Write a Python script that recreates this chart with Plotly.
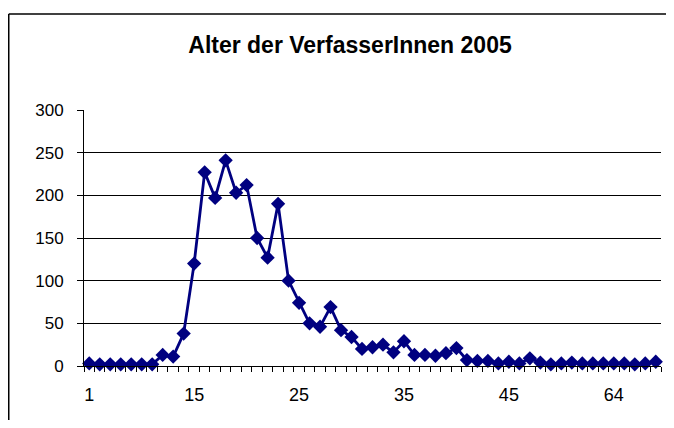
import plotly.graph_objects as go

ages = ["1", "3", "5", "7", "9", "10", "11", "12", "13", "14",
        "15", "16", "17", "18", "19", "20", "21", "22", "23", "24",
        "25", "26", "27", "28", "29", "30", "31", "32", "33", "34",
        "35", "36", "37", "38", "39", "40", "41", "42", "43", "44",
        "45", "46", "47", "48", "49", "50", "52", "55", "58", "60",
        "64", "65", "68", "70", "75"]
counts = [3, 2, 2, 2, 2, 2, 2, 13, 11, 38,
          120, 227, 197, 241, 203, 212, 150, 127, 190, 100,
          74, 50, 46, 69, 42, 34, 20, 22, 25, 16,
          29, 13, 13, 12, 15, 21, 7, 6, 6, 3,
          5, 3, 9, 4, 2, 3, 4, 3, 3, 3,
          3, 3, 2, 3, 5]
shown_labels = ["1", "15", "25", "35", "45", "64"]
title_text = "Alter der VerfasserInnen 2005"

FONT = "Liberation Sans, Arial, sans-serif"

# page body has an 8px default margin; size the figure so it fits the window
W, H = 658, 412
L, R, T, B = 76, 5, 102, 54
PW, PH = W - L - R, H - T - B

fig = go.Figure()
fig.add_trace(go.Scatter(
    x=ages, y=counts, mode="lines+markers",
    line=dict(color="#000080", width=2.8),
    marker=dict(symbol="diamond", size=11, color="#000080",
                line=dict(width=0)),
    showlegend=False, cliponaxis=False,
))

ticktext = [a if a in shown_labels else "" for a in ages]

fig.update_layout(
    width=W, height=H,
    margin=dict(l=L, r=R, t=T, b=B, pad=0, autoexpand=False),
    paper_bgcolor="white", plot_bgcolor="white",
    font=dict(family=FONT, color="black"),
    title=dict(text="<b>" + title_text + "</b>", x=342 / W, xanchor="center",
               y=1 - 37 / H, yanchor="middle", yref="container",
               font=dict(size=23, family=FONT, color="black")),
    xaxis=dict(type="category", categoryorder="array", categoryarray=ages,
               tickmode="array", tickvals=ages, ticktext=ticktext,
               tickson="boundaries", ticks="outside", ticklen=5,
               tickcolor="black", tickwidth=1, tickangle=0,
               showline=True, linecolor="black", linewidth=1,
               showgrid=False, zeroline=False, automargin=False,
               tickfont=dict(size=18, family=FONT, color="black"),
               ticklabelstandoff=12, range=[-0.5, len(ages) - 0.5]),
    yaxis=dict(range=[0, 300], tickmode="array",
               tickvals=[0, 50, 100, 150, 200, 250, 300],
               ticks="outside", ticklen=6, tickcolor="black",
               showline=True, linecolor="black", linewidth=1,
               showgrid=True, gridcolor="black", gridwidth=1,
               zeroline=False, automargin=False,
               tickfont=dict(size=17, family=FONT, color="black"),
               ticklabelstandoff=10),
    shapes=[
        dict(type="line", xref="paper", yref="paper",
             x0=(0.75 - L) / PW, x1=(W - L) / PW,
             y0=(H - B - 6) / PH, y1=(H - B - 6) / PH,
             line=dict(color="black", width=1.5)),
        dict(type="line", xref="paper", yref="paper",
             x0=(0.75 - L) / PW, x1=(0.75 - L) / PW,
             y0=(H - B - 6) / PH, y1=-B / PH,
             line=dict(color="black", width=1.5)),
    ],
)

fig.write_html("out.html")
